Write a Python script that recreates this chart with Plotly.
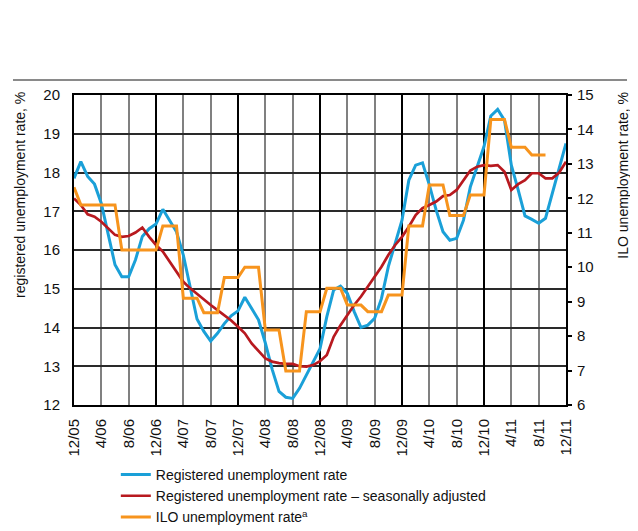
import plotly.graph_objects as go

# monthly observations, 12/05 .. 12/11
registered = [
    17.85, 18.28, 17.90, 17.70, 17.20, 16.45, 15.62, 15.31, 15.31, 15.75, 16.35, 16.55,
    16.67, 17.05, 16.77, 16.47, 15.87, 15.05, 14.22, 13.90, 13.65, 13.85, 14.10, 14.30,
    14.43, 14.78, 14.50, 14.20, 13.60, 12.92, 12.35, 12.20, 12.17, 12.43, 12.77, 13.12,
    13.45, 14.28, 14.97, 15.07, 14.88, 14.41, 14.00, 14.06, 14.24, 14.75, 15.57, 16.17,
    16.77, 17.80, 18.19, 18.25, 17.68, 17.03, 16.47, 16.25, 16.30, 16.77, 17.63, 18.15,
    18.67, 19.46, 19.63, 19.35, 18.19, 17.55, 16.88, 16.79, 16.69, 16.82, 17.46, 18.06,
    18.75,
]
seasonally_adjusted = [
    17.33, 17.16, 16.92, 16.86, 16.73, 16.56, 16.39, 16.34, 16.36, 16.45, 16.58, 16.34,
    16.13, 15.96, 15.70, 15.44, 15.18, 15.01, 14.86, 14.71, 14.58, 14.45, 14.32, 14.18,
    14.02, 13.85, 13.59, 13.38, 13.20, 13.12, 13.08, 13.06, 13.06, 13.00, 12.99, 13.03,
    13.13, 13.29, 13.76, 14.06, 14.32, 14.58, 14.80, 15.05, 15.31, 15.57, 15.87, 16.13,
    16.34, 16.60, 16.90, 17.08, 17.16, 17.25, 17.39, 17.42, 17.55, 17.80, 18.05, 18.15,
    18.19, 18.17, 18.19, 18.02, 17.55, 17.70, 17.80, 17.98, 17.98, 17.85, 17.85, 18.00,
    18.28,
]
ilo = [
    12.32, 11.81, 11.81, 11.81, 11.81, 11.81, 11.81, 10.50, 10.50, 10.50, 10.50, 10.50,
    10.50, 11.20, 11.20, 11.20, 9.10, 9.10, 9.10, 8.68, 8.68, 8.68, 9.70, 9.70,
    9.70, 10.00, 10.00, 10.00, 8.18, 8.18, 8.18, 6.99, 6.99, 6.99, 8.71, 8.71,
    8.71, 9.39, 9.39, 9.39, 8.90, 8.90, 8.90, 8.71, 8.71, 8.71, 9.19, 9.19,
    9.19, 11.20, 11.20, 11.20, 12.39, 12.39, 12.39, 11.50, 11.50, 11.50, 12.10, 12.10,
    12.10, 14.29, 14.29, 14.29, 13.48, 13.48, 13.48, 13.26, 13.26, 13.26,
]
tick_labels = ["12/05", "4/06", "8/06", "12/06", "4/07", "8/07", "12/07", "4/08", "8/08",
               "12/08", "4/09", "8/09", "12/09", "4/10", "8/10", "12/10", "4/11", "8/11", "12/11"]

BLUE = "#1aa0d8"
RED = "#b8191f"
ORANGE = "#f7941d"
FONT = "Liberation Sans"

months = list(range(len(registered)))
tick_vals = [4 * i for i in range(len(tick_labels))]

fig = go.Figure()
fig.add_trace(go.Scatter(x=months, y=registered, mode="lines", name="Registered unemployment rate",
                         line=dict(color=BLUE, width=3)))
fig.add_trace(go.Scatter(x=months, y=seasonally_adjusted, mode="lines",
                         name="Registered unemployment rate \u2013 seasonally adjusted",
                         line=dict(color=RED, width=2.7)))
fig.add_trace(go.Scatter(x=list(range(len(ilo))), y=ilo, mode="lines", name="ILO unemployment rate<sup>a</sup>",
                         line=dict(color=ORANGE, width=3), xaxis="x2", yaxis="y2"))

# page body adds an 8px offset, so margins are shifted to compensate
fig.update_layout(
    width=638, height=531,
    margin=dict(l=66, r=80, t=87, b=134, autoexpand=False),
    paper_bgcolor="white", plot_bgcolor="white",
    font=dict(family=FONT, size=15, color="#111"),
    showlegend=True,
    legend=dict(x=0.085, y=-0.174, xanchor="left", yanchor="top", orientation="v",
                font=dict(size=14, color="#111"), tracegroupgap=0, itemwidth=30,
                bgcolor="rgba(0,0,0,0)"),
    xaxis=dict(range=[0, 72], tickvals=tick_vals, ticktext=tick_labels, tickangle=-90,
               showgrid=True, gridcolor="#808080", gridwidth=2, zeroline=False,
               showline=True, linecolor="black", linewidth=2, mirror=True,
               ticks="", ticklabelstandoff=6),
    xaxis2=dict(range=[0, 72], overlaying="x", tickvals=tick_vals[::3], showticklabels=False,
                showgrid=True, gridcolor="black", gridwidth=1.5, zeroline=False, ticks=""),
    yaxis=dict(range=[12, 20], dtick=1, showgrid=True, gridcolor="#2a2a2a", gridwidth=1.5,
               zeroline=False, showline=True, linecolor="black", linewidth=2, mirror=True,
               ticks="", ticklabelstandoff=9),
    yaxis2=dict(range=[6, 15], dtick=1, overlaying="y", side="right", anchor="x2",
                showgrid=False, zeroline=False, ticks="outside", ticklen=5, tickwidth=1.5,
                tickcolor="black", ticklabelstandoff=2),
    shapes=[dict(type="line", xref="paper", yref="paper", x0=-0.124, x1=1.124, y0=1.048, y1=1.048,
                 line=dict(color="#8a8a8a", width=2))],
    annotations=[
        dict(text="registered unemployment rate, %", xref="paper", yref="paper", x=-0.11, y=1.016,
             xanchor="center", yanchor="top", textangle=-90, showarrow=False, font=dict(size=14)),
        dict(text="ILO unemployment rate, %", xref="paper", yref="paper", x=1.114, y=1.016,
             xanchor="center", yanchor="top", textangle=-90, showarrow=False, font=dict(size=14)),
    ],
)

fig.write_html("out.html")
